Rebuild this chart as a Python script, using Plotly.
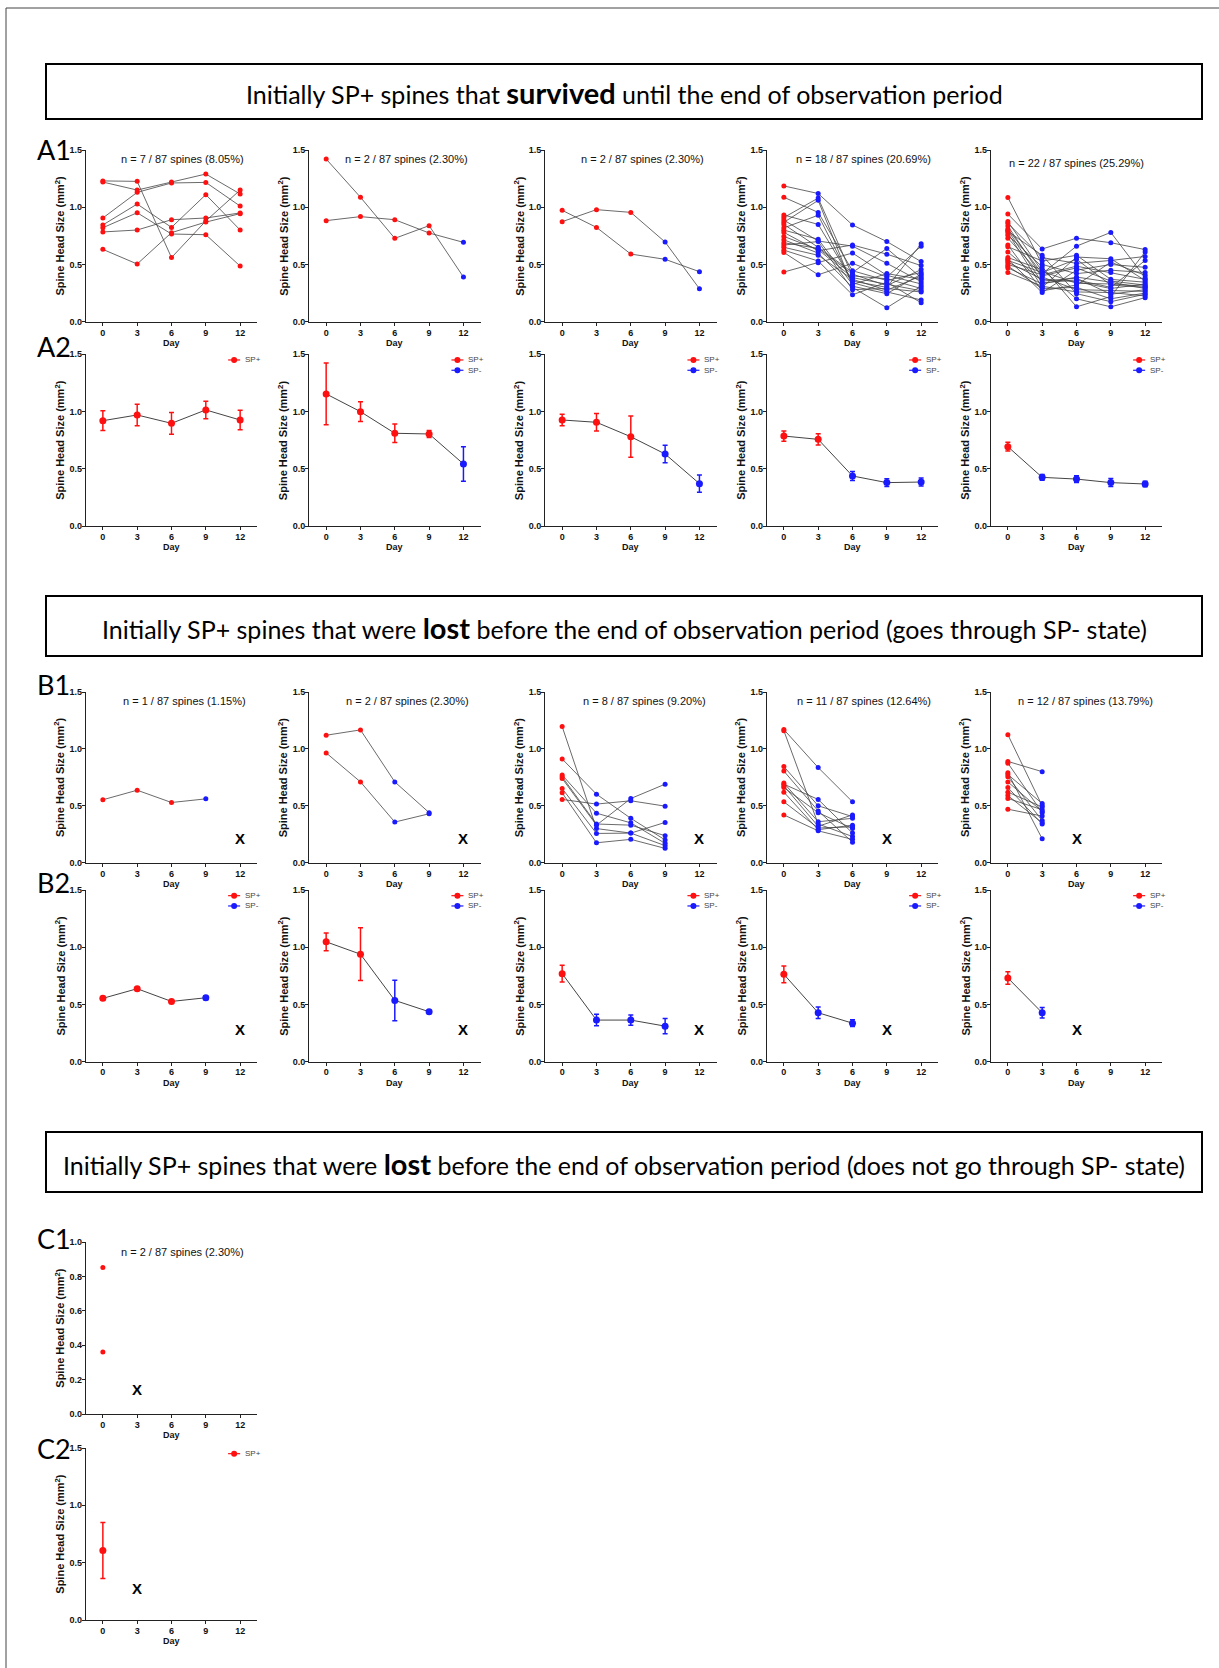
import plotly.graph_objects as go

W, H = 1219, 1668
DAYS = [0, 3, 6, 9, 12]

# ---------------- data ----------------
# A1: initially SP+ spines that survived (each row = one spine, values at days 0..12)
a1_p1 = [[1.23, 1.226, 0.56, 0.88, 1.15],
         [1.22, 1.15, 1.22, 1.29, 1.116],
         [0.906, 1.13, 1.212, 1.217, 1.01],
         [0.845, 1.028, 0.824, 1.11, 0.801],
         [0.821, 0.952, 0.766, 0.76, 0.486],
         [0.784, 0.801, 0.891, 0.906, 0.95],
         [0.632, 0.504, 0.778, 0.87, 0.944]]
a1_p2 = [[1.421, 1.087, 0.728, 0.839, 0.39],
         [0.883, 0.918, 0.891, 0.775, 0.693]]
a1_p3 = [[0.973, 0.824, 0.591, 0.545, 0.437],
         [0.874, 0.979, 0.955, 0.696, 0.288]]
a1_p4 = [[1.186, 1.12, 0.845, 0.70, 0.525],
         [1.087, 0.955, 0.445, 0.36, 0.43],
         [0.932, 0.85, 0.355, 0.30, 0.68],
         [0.91, 1.08, 0.40, 0.375, 0.29],
         [0.888, 0.705, 0.66, 0.51, 0.35],
         [0.868, 1.06, 0.31, 0.245, 0.415],
         [0.85, 0.65, 0.43, 0.64, 0.385],
         [0.82, 0.93, 0.34, 0.26, 0.19],
         [0.80, 0.72, 0.325, 0.42, 0.37],
         [0.78, 0.62, 0.67, 0.59, 0.49],
         [0.745, 0.63, 0.385, 0.33, 0.27],
         [0.715, 0.60, 0.30, 0.122, 0.31],
         [0.69, 0.64, 0.415, 0.315, 0.455],
         [0.67, 0.70, 0.28, 0.29, 0.26],
         [0.65, 0.58, 0.37, 0.275, 0.40],
         [0.625, 0.53, 0.235, 0.345, 0.165],
         [0.605, 0.41, 0.51, 0.39, 0.66],
         [0.434, 0.515, 0.60, 0.405, 0.33]]
a1_p5 = [[1.085, 0.50, 0.42, 0.45, 0.43],
         [0.94, 0.635, 0.73, 0.69, 0.63],
         [0.875, 0.44, 0.335, 0.33, 0.31],
         [0.86, 0.56, 0.51, 0.535, 0.57],
         [0.835, 0.39, 0.28, 0.27, 0.265],
         [0.81, 0.42, 0.66, 0.78, 0.385],
         [0.80, 0.34, 0.365, 0.30, 0.535],
         [0.79, 0.58, 0.245, 0.175, 0.24],
         [0.775, 0.30, 0.565, 0.55, 0.36],
         [0.755, 0.48, 0.13, 0.22, 0.61],
         [0.73, 0.40, 0.47, 0.355, 0.32],
         [0.67, 0.27, 0.32, 0.52, 0.405],
         [0.655, 0.53, 0.58, 0.37, 0.345],
         [0.61, 0.355, 0.38, 0.24, 0.28],
         [0.56, 0.455, 0.20, 0.13, 0.21],
         [0.545, 0.255, 0.45, 0.50, 0.475],
         [0.535, 0.43, 0.545, 0.32, 0.30],
         [0.52, 0.37, 0.35, 0.29, 0.33],
         [0.50, 0.41, 0.485, 0.43, 0.37],
         [0.485, 0.29, 0.30, 0.20, 0.25],
         [0.47, 0.33, 0.39, 0.345, 0.29],
         [0.43, 0.31, 0.26, 0.255, 0.225]]
a1_sets = [a1_p1, a1_p2, a1_p3, a1_p4, a1_p5]
a1_blue_from = [99, 12, 9, 3, 3]
a1_n = ["n = 7 / 87 spines (8.05%)", "n = 2 / 87 spines (2.30%)",
        "n = 2 / 87 spines (2.30%)", "n = 18 / 87 spines (20.69%)",
        "n = 22 / 87 spines (25.29%)"]
a1_n_pos = [7.0, 7.0, 7.0, 7.0, 6.0]

# A2: mean +/- SEM
a2_mean = [[0.92, 0.97, 0.897, 1.014, 0.926],
           [1.154, 0.999, 0.81, 0.804, 0.542],
           [0.926, 0.906, 0.78, 0.629, 0.37],
           [0.786, 0.757, 0.437, 0.379, 0.384],
           [0.693, 0.425, 0.41, 0.379, 0.367]]
a2_sem = [[0.086, 0.094, 0.095, 0.076, 0.085],
          [0.27, 0.086, 0.08, 0.03, 0.15],
          [0.05, 0.076, 0.18, 0.077, 0.075],
          [0.045, 0.05, 0.04, 0.033, 0.035],
          [0.038, 0.025, 0.03, 0.035, 0.025]]
a2_blue_from = [99, 12, 9, 6, 3]

# B1: lost, goes through SP- state
b1_p1 = [[0.553, 0.637, 0.529, 0.561]]
b1_p2 = [[1.12, 1.167, 0.71, 0.44],
         [0.965, 0.71, 0.357, 0.43]]
b1_p3 = [[1.196, 0.30, 0.26, 0.15],
         [0.912, 0.602, 0.39, 0.20],
         [0.77, 0.435, 0.35, 0.17],
         [0.755, 0.34, 0.33, 0.237],
         [0.74, 0.33, 0.564, 0.69],
         [0.652, 0.257, 0.26, 0.354],
         [0.614, 0.175, 0.205, 0.126],
         [0.556, 0.515, 0.544, 0.497]]
b1_p4 = [[1.17, 0.836, 0.535], [1.16, 0.34, 0.23], [0.845, 0.50, 0.405],
         [0.805, 0.455, 0.18], [0.70, 0.36, 0.39], [0.69, 0.556, 0.26],
         [0.675, 0.32, 0.42], [0.66, 0.44, 0.30], [0.62, 0.29, 0.33],
         [0.535, 0.305, 0.315], [0.42, 0.28, 0.205]]
b1_p5 = [[1.125, 0.50], [0.89, 0.80], [0.875, 0.44], [0.79, 0.21],
         [0.775, 0.52], [0.755, 0.37], [0.71, 0.45], [0.66, 0.34],
         [0.62, 0.49], [0.59, 0.35], [0.565, 0.465], [0.47, 0.41]]
b1_sets = [b1_p1, b1_p2, b1_p3, b1_p4, b1_p5]
b_blue_from = [9, 6, 3, 3, 3]
b_lost_day = [12, 12, 12, 9, 6]
b1_n = ["n = 1 / 87 spines (1.15%)", "n = 2 / 87 spines (2.30%)",
        "n = 8 / 87 spines (9.20%)", "n = 11 / 87 spines (12.64%)",
        "n = 12 / 87 spines (13.79%)"]
b1_n_pos = [7.1, 7.1, 7.2, 7.0, 6.8]

b2_mean = [[0.553, 0.637, 0.526, 0.558],
           [1.047, 0.939, 0.535, 0.436],
           [0.769, 0.363, 0.363, 0.31],
           [0.763, 0.427, 0.336],
           [0.731, 0.427]]
b2_sem = [[0.015, 0.012, 0.015, 0.015],
          [0.078, 0.23, 0.177, 0.012],
          [0.073, 0.05, 0.045, 0.066],
          [0.073, 0.05, 0.03],
          [0.055, 0.045]]

# C: lost, does not go through SP- state
c1_vals = [[0.852], [0.361]]
c1_n = "n = 2 / 87 spines (2.30%)"
c2_mean = [0.606]
c2_sem = [0.245]
c_lost_day = 3

headers = [
    "Initially SP+ spines that <b><span style='font-size:29px'>survived</span></b> until the end of observation period",
    "Initially SP+ spines that were <b><span style='font-size:29px'>lost</span></b> before the end of observation period (goes through SP- state)",
    "Initially SP+ spines that were <b><span style='font-size:29px'>lost</span></b> before the end of observation period (does not go through SP- state)",
]

X_TITLE = "<b>Day</b>"
Y_TITLE = "<b>Spine Head Size (mm<sup>2</sup>)</b>"

# ---------------- layout geometry (pixels) ----------------
COL_X = [85.7, 309.0, 545.0, 766.7, 990.7]
PW = 171.6
PH = 171.7
ROWS = {"A1": (150.0, 321.7), "A2": (354.3, 526.0), "B1": (692.0, 862.7),
        "B2": (890.0, 1061.6), "C1": (1242.0, 1414.0), "C2": (1448.0, 1620.0)}
HEADER_BOX = [(64, 119), (596, 656), (1132, 1192)]
RED = "#ff1010"
BLUE = "#1a1aff"
LINE = "#444444"
AX = "#222222"
SANS = "Liberation Sans"

fig = go.Figure()
layout = {}
annotations = []
shapes = []
count = [0]

TICKFONT = dict(family=SANS, size=9, color="#111", weight="bold")


def new_axes(col, row, yr=(0, 1.5), ytick=(0, 0.5, 1.0, 1.5)):
    count[0] += 1
    n = count[0]
    sfx = "" if n == 1 else str(n)
    top, bot = ROWS[row]
    x0 = COL_X[col]
    layout["xaxis" + sfx] = dict(
        domain=[x0 / W, (x0 + PW) / W], anchor="y" + sfx, range=[-1.5, 13.5],
        tickvals=DAYS, ticktext=[str(d) for d in DAYS], showline=True,
        linecolor=AX, linewidth=1, ticks="outside", ticklen=3, tickwidth=1,
        tickcolor=AX, showgrid=False, zeroline=False, tickfont=TICKFONT,
        ticklabelstandoff=-1, automargin=False)
    layout["yaxis" + sfx] = dict(
        domain=[1 - bot / H, 1 - top / H], anchor="x" + sfx, range=list(yr),
        tickvals=list(ytick), ticktext=["%.1f" % t for t in ytick],
        showline=True, linecolor=AX, linewidth=1, ticks="outside", ticklen=3,
        tickwidth=1, tickcolor=AX, showgrid=False, zeroline=False,
        tickfont=TICKFONT, ticklabelstandoff=-2, automargin=False)
    xa, ya = "x" + sfx, "y" + sfx
    annotations.append(dict(text=X_TITLE, xref=xa + " domain", yref=ya + " domain",
                            x=0.5, y=-21 / PH, showarrow=False, xanchor="center",
                            yanchor="middle",
                            font=dict(family=SANS, size=9, color="#111")))
    annotations.append(dict(text=Y_TITLE, xref=xa + " domain", yref=ya + " domain",
                            x=-26 / PW, y=0.5, showarrow=False, textangle=-90,
                            xanchor="center", yanchor="middle",
                            font=dict(family=SANS, size=11, color="#111")))
    return xa, ya


def draw_individual(xa, ya, trajs, blue_from):
    lx, ly = [], []
    rx, ry, bx, by = [], [], [], []
    for t in trajs:
        d = DAYS[:len(t)]
        lx += d + [None]
        ly += list(t) + [None]
        for dd, v in zip(d, t):
            if dd >= blue_from:
                bx.append(dd); by.append(v)
            else:
                rx.append(dd); ry.append(v)
    fig.add_trace(go.Scatter(x=lx, y=ly, mode="lines", xaxis=xa, yaxis=ya,
                             line=dict(color=LINE, width=0.8), showlegend=False,
                             hoverinfo="skip"))
    for xs, ys, c in ((rx, ry, RED), (bx, by, BLUE)):
        if xs:
            fig.add_trace(go.Scatter(x=xs, y=ys, mode="markers", xaxis=xa, yaxis=ya,
                                     marker=dict(color=c, size=5), showlegend=False))


def draw_means(xa, ya, means, sems, blue_from):
    d = DAYS[:len(means)]
    fig.add_trace(go.Scatter(x=d, y=means, mode="lines", xaxis=xa, yaxis=ya,
                             line=dict(color=LINE, width=1), showlegend=False,
                             hoverinfo="skip"))
    for col, sel in ((RED, lambda x: x < blue_from), (BLUE, lambda x: x >= blue_from)):
        xs = [x for x in d if sel(x)]
        if not xs:
            continue
        ys = [m for x, m in zip(d, means) if sel(x)]
        es = [s for x, s in zip(d, sems) if sel(x)]
        fig.add_trace(go.Scatter(x=xs, y=ys, mode="markers", xaxis=xa, yaxis=ya,
                                 marker=dict(color=col, size=7),
                                 error_y=dict(type="data", array=es, color=col,
                                              thickness=1.5, width=2.5),
                                 showlegend=False))


def n_label(xa, ya, text, xday, ydom=0.947):
    annotations.append(dict(text=text, xref=xa, yref=ya + " domain", x=xday, y=ydom,
                            showarrow=False, xanchor="center", yanchor="middle",
                            font=dict(family=SANS, size=11, color="#111")))


def x_mark(xa, ya, day, yv):
    annotations.append(dict(text="X", xref=xa, yref=ya, x=day, y=yv,
                            showarrow=False, xanchor="center", yanchor="middle",
                            font=dict(family=SANS, size=15, color="#000", weight="bold")))


def legend(xa, ya, items):
    for k, (lab, col) in enumerate(items):
        yy = 0.967 - 0.06 * k
        shapes.append(dict(type="line", xref=xa + " domain", yref=ya + " domain",
                           x0=0.83, x1=0.90, y0=yy, y1=yy,
                           line=dict(color=col, width=1.2)))
        shapes.append(dict(type="circle", xref=xa + " domain", yref=ya + " domain",
                           xsizemode="pixel", ysizemode="pixel", xanchor=0.865,
                           yanchor=yy, x0=-3, x1=3, y0=-3, y1=3,
                           fillcolor=col, line=dict(width=0)))
        annotations.append(dict(text=lab, xref=xa + " domain", yref=ya + " domain",
                                x=0.915, y=yy, showarrow=False, xanchor="left",
                                yanchor="middle",
                                font=dict(family=SANS, size=8, color="#444")))


SPP = ("SP+", RED)
SPM = ("SP-", BLUE)

# ---- Row A1 / A2 ----
for i in range(5):
    xa, ya = new_axes(i, "A1")
    draw_individual(xa, ya, a1_sets[i], a1_blue_from[i])
    n_label(xa, ya, a1_n[i], a1_n_pos[i], 0.947 if i < 4 else 0.925)
for i in range(5):
    xa, ya = new_axes(i, "A2")
    draw_means(xa, ya, a2_mean[i], a2_sem[i], a2_blue_from[i])
    legend(xa, ya, [SPP] if i == 0 else [SPP, SPM])

# ---- Row B1 / B2 ----
for i in range(5):
    xa, ya = new_axes(i, "B1")
    draw_individual(xa, ya, b1_sets[i], b_blue_from[i])
    n_label(xa, ya, b1_n[i], b1_n_pos[i], 0.95)
    x_mark(xa, ya, b_lost_day[i], 0.21)
for i in range(5):
    xa, ya = new_axes(i, "B2")
    draw_means(xa, ya, b2_mean[i], b2_sem[i], b_blue_from[i])
    legend(xa, ya, [SPP, SPM])
    x_mark(xa, ya, b_lost_day[i], 0.28)

# ---- Row C1 / C2 ----
xa, ya = new_axes(0, "C1", yr=(0, 1.0), ytick=(0, 0.2, 0.4, 0.6, 0.8, 1.0))
draw_individual(xa, ya, c1_vals, 99)
n_label(xa, ya, c1_n, 7.0, 0.94)
x_mark(xa, ya, c_lost_day, 0.14)
xa, ya = new_axes(0, "C2")
draw_means(xa, ya, c2_mean, c2_sem, 99)
legend(xa, ya, [SPP])
x_mark(xa, ya, c_lost_day, 0.276)

# ---- panel letters ----
letters = [("A1", 149), ("A2", 346), ("B1", 684), ("B2", 882), ("C1", 1238), ("C2", 1448)]
for lab, yp in letters:
    annotations.append(dict(text=lab, xref="paper", yref="paper", x=35 / W, y=1 - yp / H,
                            showarrow=False, xanchor="left", yanchor="middle",
                            font=dict(family="Lato", size=27, color="#000")))

# ---- header boxes ----
for (y0, y1), txt in zip(HEADER_BOX, headers):
    shapes.append(dict(type="rect", xref="paper", yref="paper", x0=46 / W, x1=1202 / W,
                       y0=1 - y1 / H, y1=1 - y0 / H, line=dict(color="#000", width=2),
                       fillcolor="rgba(0,0,0,0)"))
    annotations.append(dict(text=txt, xref="paper", yref="paper", x=624 / W,
                            y=1 - ((y0 + y1) / 2 + 1) / H, showarrow=False,
                            xanchor="center", yanchor="middle",
                            font=dict(family="Lato", size=25, color="#000")))

# outer frame
shapes.append(dict(type="rect", xref="paper", yref="paper", x0=6 / W, x1=1.02,
                   y0=-0.02, y1=1 - 8 / H, line=dict(color="#444", width=1)))

layout.update(dict(width=W, height=H, margin=dict(l=0, r=0, t=0, b=0),
                   paper_bgcolor="white", plot_bgcolor="white", showlegend=False,
                   annotations=annotations, shapes=shapes))
fig.update_layout(**layout)
fig.write_html("out.html")
